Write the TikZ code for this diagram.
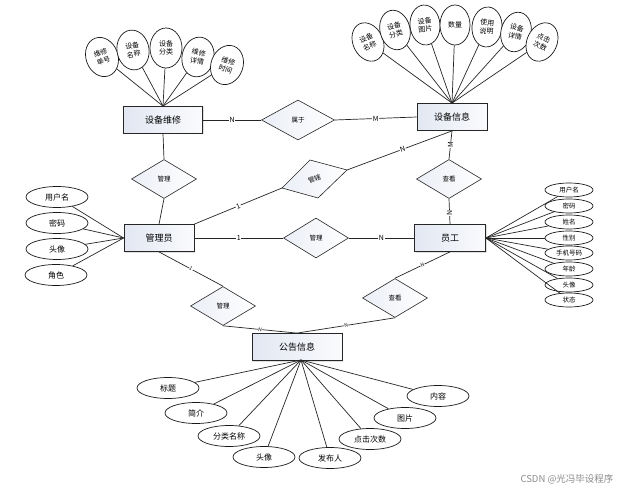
\documentclass[tikz,border=0pt]{standalone}
\usepackage{fontspec}
\setmainfont{Noto Sans CJK SC}
\usetikzlibrary{shapes.geometric,shadows}

\definecolor{shadeL}{RGB}{226,231,242}
\definecolor{shadeR}{RGB}{250,251,253}

\begin{document}
\begin{tikzpicture}[x=1pt,y=-1pt,
  line/.style={draw=black!85, line width=0.7pt},
  ent/.style={rectangle, draw=black!85, line width=0.8pt,
    left color=shadeL, right color=shadeR,
    minimum width=#1, minimum height=27pt, inner sep=0pt,
    font=\fontsize{9}{10}\selectfont,
    drop shadow={shadow xshift=1pt,shadow yshift=-1pt,opacity=0.25}},
  rel/.style={diamond, draw=black!85, line width=0.6pt,
    left color=shadeL!70!white, right color=white,
    minimum width=65pt, minimum height=39pt, inner sep=0pt,
    font=\fontsize{6.5}{7}\selectfont},
  attv/.style={ellipse, draw=black!90, line width=0.7pt, fill=white,
    minimum width=32pt, minimum height=40pt, inner sep=0pt, align=center,
    font=\fontsize{7}{8.5}\selectfont},
  atth/.style={ellipse, draw=black!90, line width=0.7pt, fill=white,
    minimum width=62pt, minimum height=21pt, inner sep=0pt,
    font=\fontsize{8}{9}\selectfont},
  atts/.style={ellipse, draw=black!90, line width=0.7pt, fill=white,
    minimum width=48pt, minimum height=14pt, inner sep=0pt,
    font=\fontsize{6.5}{7}\selectfont},
  lab/.style={fill=white, inner sep=0.6pt, font=\fontsize{7}{7}\selectfont},
  tlab/.style={fill=white, inner sep=0.4pt, font=\fontsize{5}{5}\selectfont, sloped}
]
\useasboundingbox[fill=white] (0,0) rectangle (629,489);

% entities
\node[ent=79pt] (sw)   at (163,120) {设备维修};
\node[ent=70pt] (sbxx) at (452,117) {设备信息};
\node[ent=70pt] (gly)  at (159,238) {管理员};
\node[ent=71pt] (yg)   at (450,238) {员工};
\node[ent=90pt] (gg)   at (297,347) {公告信息};
\coordinate (ggb) at (301,360);

% relationships
\node[rel, minimum width=73pt, minimum height=40pt] (sy) at (298,120) {属于};
\node[rel] (m1)  at (164,179) {管理};
\node[rel] (ck1) at (449,179) {查看};
\node[rel, minimum height=40pt] (m2) at (316,238) {管理};
\node[rel] (m3)  at (223,306) {管理};
\node[rel] (ck2) at (395,298) {查看};

% slanted relationship between administrator and equipment
\coordinate (gxL) at (282,188);
\coordinate (gxT) at (310,160);
\coordinate (gxR) at (347,170);
\coordinate (gxB) at (318,198);
\path[draw=black!85, line width=0.6pt, left color=shadeL!70!white, right color=white]
  (gxL) -- (gxT) -- (gxR) -- (gxB) -- cycle;
\node[rotate=22, font=\fontsize{6.5}{7}\selectfont] (gx) at (314.5,179) {管辖};

% relationship connectors
\draw[line] (sw.east) -- node[lab] {N} (sy.west);
\draw[line] (sy.east) -- node[lab] {M} (sbxx.west);
\draw[line] (sw.south) -- (m1.north);
\draw[line] (m1.south) -- (gly.north);
\draw[line] (gly.north east) -- node[lab, sloped] {1} (gxL);
\draw[line] (gxR) -- node[lab, sloped, pos=0.53] {N} (sbxx.south);
\draw[line] (sbxx.south) -- node[lab, rotate=90] {M} (ck1.north);
\draw[line] (ck1.south) -- node[lab, rotate=90, pos=0.55] {N} (yg.north);
\draw[line] (gly.east) -- node[lab] {1} (m2.west);
\draw[line] (m2.east) -- node[lab] {N} (yg.west);
\draw[line] (gly.south) -- node[tlab] {1} (m3.north);
\draw[line] (m3.south) -- node[tlab] {N} (gg.north);
\draw[line] (yg.south) -- node[tlab] {N} (ck2.north);
\draw[line] (ck2.south) -- node[tlab] {N} (gg.north);

% attributes of 设备维修
\node[attv, rotate=20]  (a1) at (102,57) {维修\\单号};
\node[attv, rotate=10]  (a2) at (133,50) {设备\\名称};
\node[attv]             (a3) at (166,48) {设备\\分类};
\node[attv, rotate=-12] (a4) at (198,57) {维修\\详情};
\node[attv, rotate=-20] (a5) at (227,65) {维修\\时间};
\foreach \a in {a1,a2,a3,a4,a5} \draw[line] (sw.north) -- (\a);

% attributes of 设备信息
\node[attv, rotate=25,  minimum width=30pt] (b1) at (368,42) {设备\\名称};
\node[attv, rotate=14,  minimum width=30pt] (b2) at (395,30) {设备\\分类};
\node[attv, rotate=5,   minimum width=30pt] (b3) at (425,25) {设备\\图片};
\node[attv,             minimum width=30pt] (b4) at (455,25) {数量};
\node[attv, rotate=-5,  minimum width=30pt] (b5) at (487,27) {使用\\说明};
\node[attv, rotate=-14, minimum width=30pt] (b6) at (516,32) {设备\\详情};
\node[attv, rotate=-25, minimum width=30pt] (b7) at (542,42) {点击\\次数};
\foreach \b in {b1,b2,b3,b4,b5,b6,b7} \draw[line] (sbxx.north) -- (\b);

% attributes of 管理员
\node[atth] (c1) at (57,197) {用户名};
\node[atth] (c2) at (57,223) {密码};
\node[atth] (c3) at (57,249) {头像};
\node[atth] (c4) at (56,275) {角色};
\foreach \c in {c1,c2,c3,c4} \draw[line] (gly.west) -- (\c);

% attributes of 员工
\node[atts] (d1) at (569,190) {用户名};
\node[atts] (d2) at (569,206) {密码};
\node[atts] (d3) at (569,222) {姓名};
\node[atts] (d4) at (569,238) {性别};
\node[atts] (d5) at (569,253) {手机号码};
\node[atts] (d6) at (569,269) {年龄};
\node[atts] (d7) at (569,285) {头像};
\node[atts] (d8) at (569,300) {状态};
\foreach \d in {d1,d2,d3,d4,d5,d6,d7,d8} \draw[line] (yg.east) -- (\d);

% attributes of 公告信息
\node[atth] (e1) at (168,388) {标题};
\node[atth] (e2) at (196,413) {简介};
\node[atth] (e3) at (229,436) {分类名称};
\node[atth] (e4) at (264,457) {头像};
\node[atth] (e5) at (330,458) {发布人};
\node[atth] (e6) at (370,439) {点击次数};
\node[atth] (e7) at (405,418) {图片};
\node[atth] (e8) at (438,396) {内容};
\foreach \e in {e1,e2,e3,e4,e5,e6,e7,e8} \draw[line] (ggb) -- (\e);

% watermark
\node[text=black!45, font=\fontsize{9.5}{10}\selectfont] (wm) at (567,479) {CSDN @光冯毕设程序};
\end{tikzpicture}
\end{document}
